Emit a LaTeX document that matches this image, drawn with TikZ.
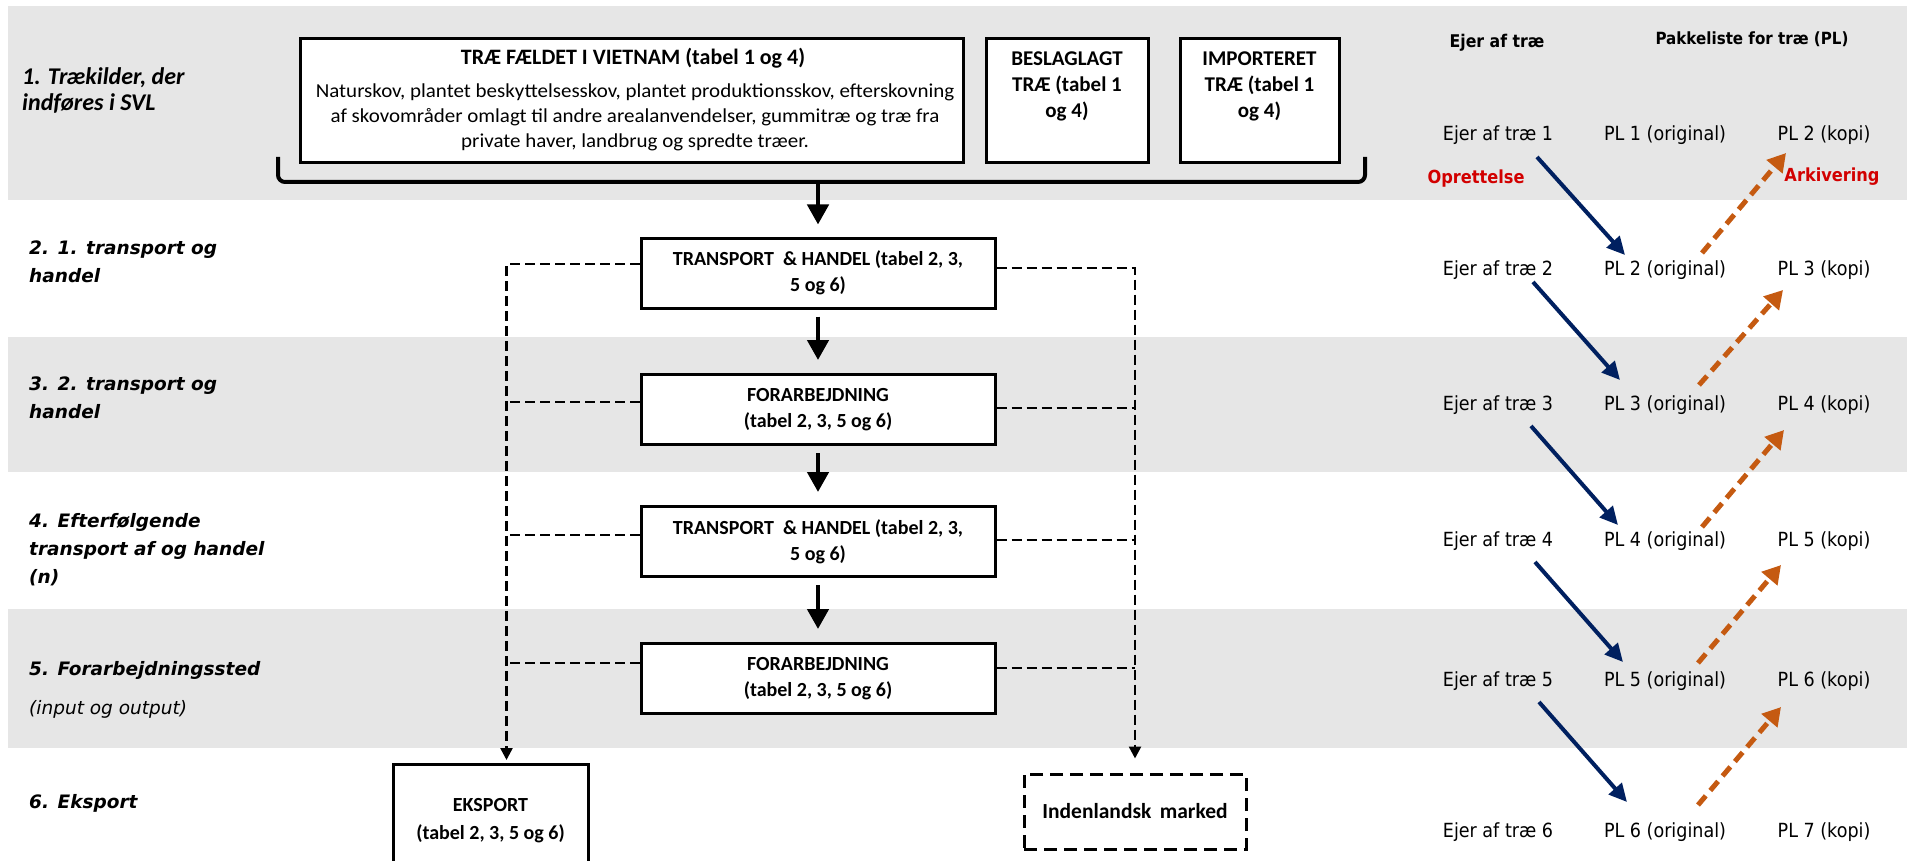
\documentclass[tikz,border=0pt]{standalone}
\usepackage{fontspec}
\setmainfont{Carlito}
\newfontfamily\descfont{Carlito}[FakeStretch=1.06]
\newfontfamily\vfont{DejaVu Sans}[BoldFont={DejaVu Sans Bold},ItalicFont={DejaVu Sans Oblique},BoldItalicFont={DejaVu Sans Bold Oblique}]
\newfontfamily\tfont{DejaVu Sans}[FakeStretch=0.9,BoldFont={DejaVu Sans Bold}]
\usetikzlibrary{arrows.meta,calc}
\definecolor{bandgray}{RGB}{230,230,230}
\definecolor{navy}{RGB}{0,32,96}
\definecolor{orng}{RGB}{197,90,17}
\definecolor{redc}{RGB}{210,0,0}
\begin{document}
\begin{tikzpicture}[x=1pt,y=-1pt,
  flowbox/.style={draw, line width=3pt, fill=white, minimum width=354pt, minimum height=70pt, inner sep=0pt, align=center, font=\fontsize{20}{26}\selectfont\bfseries},
  srcbox/.style={draw, line width=3pt, fill=white, inner sep=0pt},
  srctext/.style={align=center, inner sep=0pt, font=\fontsize{21}{26}\selectfont\bfseries},
  desctext/.style={align=center, inner sep=0pt, font=\descfont\fontsize{19.8}{25}\selectfont},
  lblone/.style={anchor=west, align=left, inner sep=0pt, font=\fontsize{24}{26}\selectfont\bfseries\itshape},
  lblv/.style={anchor=west, align=left, inner sep=0pt, font=\vfont\fontsize{18.5}{28}\selectfont\bfseries\itshape},
  rowt/.style={inner sep=0pt, font=\tfont\fontsize{19.5}{22}\selectfont},
  hdr/.style={inner sep=0pt, font=\tfont\fontsize{17.5}{20}\selectfont\bfseries},
  redlbl/.style={inner sep=0pt, text=redc, font=\tfont\fontsize{18}{20}\selectfont\bfseries},
  mainarr/.style={line width=4.5pt, -{Triangle[width=21pt,length=20pt]}},
  dcon/.style={line width=2.5pt, dash pattern=on 10pt off 5pt},
  dconarr/.style={dcon, -{Triangle[width=12pt,length=12pt]}},
  bluearr/.style={navy, line width=4pt, -{Triangle[width=17pt,length=18pt]}},
  orarr/.style={orng, line width=5pt, dash pattern=on 12pt off 7pt, -{Triangle[width=20pt,length=18pt]}}
]
\useasboundingbox (0,0) rectangle (1908,861);
\fill[white] (0,0) rectangle (1908,861);
% bands
\fill[bandgray] (8,6) rectangle (1907,200);
\fill[bandgray] (8,337) rectangle (1907,472);
\fill[bandgray] (8,609) rectangle (1907,748);

% stage labels
\node[lblone] (s1) at (22,90) {1. Trækilder, der\\indføres i SVL};
\node[lblv] (s2) at (29,262) {2. 1. transport og\\handel};
\node[lblv] (s3) at (29,398) {3. 2. transport og\\handel};
\node[lblv] (s4) at (29,550) {4. Efterfølgende\\transport af og handel\\(n)};
\node[lblv] (s5) at (29,690) {5. Forarbejdningssted\\[11pt]{\mdseries (input og output)}};
\node[lblv] (s6) at (29,803) {6. Eksport};

% source boxes
\node[srcbox, minimum width=663pt, minimum height=124pt] (tree) at (631.5,101) {};
\node[srctext, font=\fontsize{22}{26}\selectfont\bfseries] (treet) at (633,58) {TRÆ FÆLDET I VIETNAM (tabel 1 og 4)};
\node[desctext] (treed) at (635,117) {Naturskov, plantet beskyttelsesskov, plantet produktionsskov, efterskovning\\af skovområder omlagt til andre arealanvendelser, gummitræ og træ fra\\private haver, landbrug og spredte træer.};
\node[srcbox, minimum width=162pt, minimum height=124pt] (besl) at (1067,101) {};
\node[srctext] (beslt) at (1067,86) {BESLAGLAGT\\TRÆ (tabel 1\\og 4)};
\node[srcbox, minimum width=159pt, minimum height=124pt] (imp) at (1259.5,101) {};
\node[srctext] (impt) at (1259.5,86) {IMPORTERET\\TRÆ (tabel 1\\og 4)};

% bracket
\coordinate (brL) at (278,157);
\coordinate (brR) at (1365,157);
\coordinate (brC) at (818,182);
\draw[line width=4pt, rounded corners=7pt] (brL) -- (278,182) -- (1365,182) -- (brR);

% flow boxes
\node[flowbox] (b1) at (818,273) {TRANSPORT \ \& HANDEL (tabel 2, 3,\\5 og 6)};
\node[flowbox] (b2) at (818,409.5) {FORARBEJDNING\\(tabel 2, 3, 5 og 6)};
\node[flowbox] (b3) at (818,541.5) {TRANSPORT \ \& HANDEL (tabel 2, 3,\\5 og 6)};
\node[flowbox] (b4) at (818,678.5) {FORARBEJDNING\\(tabel 2, 3, 5 og 6)};
\node[flowbox, minimum width=195pt, minimum height=114pt, font=\fontsize{20}{28}\selectfont\bfseries] (eks) at (490.5,821) {EKSPORT\\(tabel 2, 3, 5 og 6)};
\node[flowbox, minimum width=222pt, minimum height=75pt, dash pattern=on 13pt off 7pt, font=\fontsize{21.5}{26}\selectfont\bfseries] (ind) at (1135,811.5) {Indenlandsk \,marked};

% main arrows
\draw[mainarr, shorten >=12pt] (brC) -- (b1.north);
\draw[mainarr, shorten <=7pt, shorten >=13pt] (b1.south) -- (b2.north);
\draw[mainarr, shorten <=7pt, shorten >=13pt] (b2.south) -- (b3.north);
\draw[mainarr, shorten <=7pt, shorten >=13pt] (b3.south) -- (b4.north);

% dashed side connectors
\coordinate (l1) at (506.5,264);
\coordinate (l2) at (506.5,402);
\coordinate (l3) at (506.5,535);
\coordinate (l4) at (506.5,663);
\coordinate (lend) at (506.5,760);
\coordinate (r1) at (1135,268);
\coordinate (r2) at (1135,408);
\coordinate (r3) at (1135,540);
\coordinate (r4) at (1135,668);
\draw[dconarr] (b1.west |- l1) -- (l1) -- (lend);
\draw[dcon] (b2.west |- l2) -- (l2);
\draw[dcon] (b3.west |- l3) -- (l3);
\draw[dcon] (b4.west |- l4) -- (l4);
\draw[dconarr, shorten >=14pt] (b1.east |- r1) -| (ind.north);
\draw[dcon] (b2.east |- r2) -- (r2);
\draw[dcon] (b3.east |- r3) -- (r3);
\draw[dcon] (b4.east |- r4) -- (r4);

% right column
\node[hdr] (h1) at (1497,43) {Ejer af træ};
\node[hdr, font=\tfont\fontsize{16.8}{20}\selectfont\bfseries] (h2) at (1752,39) {Pakkeliste for træ (PL)};
\node[redlbl] (opr) at (1476,179) {Oprettelse};
\node[redlbl] (ark) at (1832,177) {Arkivering};
\foreach \i/\y in {1/135,2/270,3/405,4/541,5/681,6/832}{
  \node[rowt] (e\i) at (1498,\y) {Ejer af træ \i};
  \node[rowt] (o\i) at (1665,\y) {PL \i\ (original)};
}
\foreach \i/\j/\y in {1/2/135,2/3/270,3/4/405,4/5/541,5/6/681,6/7/832}{
  \node[rowt] (k\i) at (1824,\y) {PL \j\ (kopi)};
}
\foreach \a/\b/\sx/\sy/\ex/\ey in {1/2/39/22/-40/-15, 2/3/35/12/-45/-25, 3/4/33/21/-47/-16, 4/5/37/21/-42/-19, 5/6/41/21/-38/-30}{
  \draw[bluearr] ([shift={(\sx,\sy)}]e\a.center) -- ([shift={(\ex,\ey)}]o\b.center);
}
\foreach \a/\b/\sx/\sy/\ex/\ey in {2/1/37/-17/-38/18, 3/2/34/-20/-41/20, 4/3/37/-14/-40/25, 5/4/33/-18/-43/24, 6/5/33/-27/-43/26}{
  \draw[orarr] ([shift={(\sx,\sy)}]o\a.center) -- ([shift={(\ex,\ey)}]k\b.center);
}
\end{tikzpicture}
\end{document}
